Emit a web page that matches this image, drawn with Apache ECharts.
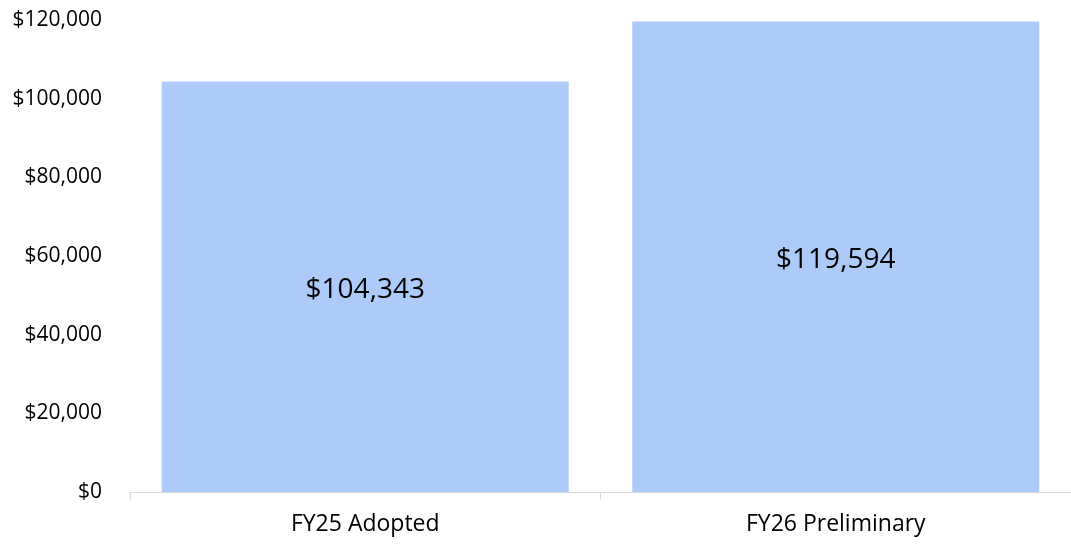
<!DOCTYPE html>
<html>
<head>
<meta charset="utf-8">
<script src="https://cdn.jsdelivr.net/npm/echarts@6/dist/echarts.min.js"></script>
<style>
  html, body { margin: 0; padding: 0; background: #fff; }
  #chart { width: 1071px; height: 544px; }
</style>
</head>
<body>
<div id="chart"></div>
<script>
var categories = ['FY25 Adopted', 'FY26 Preliminary'];
var values = [104343, 119594];

(function () {
    var chart = echarts.init(document.getElementById('chart'));
    var fmt = function (v) { return '$' + Number(v).toLocaleString('en-US'); };

    var option = {
        animation: false,
        textStyle: { fontFamily: '"Open Sans", sans-serif' },
        grid: { left: 130, right: 0, top: 20, bottom: 52, containLabel: false },
        xAxis: {
            type: 'category',
            data: categories,
            axisLine: { lineStyle: { color: '#d9d9d9', width: 1 } },
            axisTick: { show: true, length: 8, lineStyle: { color: '#d9d9d9' } },
            axisLabel: { color: '#000', fontSize: 23, margin: 21 }
        },
        yAxis: {
            type: 'value',
            min: 0,
            max: 120000,
            interval: 20000,
            axisLine: { show: false },
            axisTick: { show: false },
            splitLine: { show: false },
            axisLabel: { color: '#000', fontSize: 21, margin: 28, formatter: fmt }
        },
        series: [{
            type: 'bar',
            data: values,
            barWidth: '86.5%',
            itemStyle: { color: '#adcbf8' },
            label: {
                show: true,
                position: 'inside',
                offset: [0, 3],
                color: '#000',
                fontSize: 28,
                formatter: function (p) { return fmt(p.value); }
            }
        }]
    };

    chart.setOption(option);
})();
</script>
</body>
</html>
